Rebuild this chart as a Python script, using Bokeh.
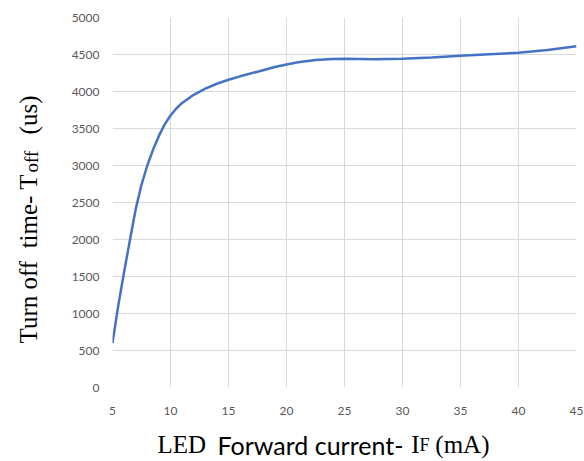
import math
from bokeh.plotting import figure
from bokeh.models import FixedTicker
from bokeh.layouts import column, row
from bokeh.core.properties import value
from bokeh.embed import file_html
from bokeh.resources import INLINE

# ---- data ----
led_current_ma = [5, 5.5, 6, 6.5, 7, 7.5, 8, 8.5, 9, 9.5, 10, 10.5, 11, 12, 13, 14,
                  15, 16, 17.5, 19, 20, 21, 22.5, 24, 25, 27.5, 30, 32.5, 35,
                  37.5, 40, 42.5, 45]
turn_off_us = [600, 1110, 1560, 1990, 2410, 2740, 3000, 3215, 3400, 3555, 3675,
               3770, 3845, 3955, 4040, 4105, 4158, 4205, 4268, 4330, 4365, 4395,
               4425, 4438, 4442, 4436, 4442, 4460, 4482, 4503, 4525, 4562, 4610]
x_ticks = [5, 10, 15, 20, 25, 30, 35, 40, 45]
y_ticks = [0, 500, 1000, 1500, 2000, 2500, 3000, 3500, 4000, 4500, 5000]

# ---- layout constants ----
PAGE_W, PAGE_H = 584, 461
YLAB_W = 48
MAIN_W, MAIN_H = PAGE_W - YLAB_W, 420
XLAB_H = PAGE_H - MAIN_H

p = figure(width=MAIN_W, height=MAIN_H, output_backend="svg", toolbar_location=None,
           x_range=(5, 45), y_range=(0, 5000), frame_align=False,
           min_border_left=112 - YLAB_W, min_border_right=8,
           min_border_top=17, min_border_bottom=33)
p.outline_line_color = None

for ax in (p.xaxis, p.yaxis):
    ax.axis_line_color = None
    ax.major_tick_line_color = None
    ax.minor_tick_line_color = None
    ax.major_label_text_font = "Lato"
    ax.major_label_text_font_size = "12px"
    ax.major_label_text_color = "#595959"
p.xaxis.ticker = FixedTicker(ticks=x_ticks)
p.yaxis.ticker = FixedTicker(ticks=y_ticks)
p.xaxis.major_label_standoff = 13
p.yaxis.major_label_standoff = 7

p.xgrid.ticker = FixedTicker(ticks=x_ticks)
p.ygrid.ticker = FixedTicker(ticks=y_ticks)
for g in (p.xgrid, p.ygrid):
    g.grid_line_color = "#d9d9d9"
    g.grid_line_width = 1

p.line(led_current_ma, turn_off_us, line_color="#4472C4", line_width=2.5)


def text_fig(w, h):
    f = figure(width=w, height=h, output_backend="svg", toolbar_location=None,
               x_range=(0, w), y_range=(0, h), min_border=0, frame_align=False,
               x_axis_type=None, y_axis_type=None, title=None)
    f.grid.visible = False
    f.outline_line_color = None
    return f


# ---- y axis title (mixed sizes, rotated) ----
ylab = text_fig(YLAB_W, MAIN_H)
for txt, bx, py, size, align in [
    ("Turn off\u00a0 time- T", 28, 343, "25px", "left"),
    ("off", 31, 172, "19px", "left"),
    ("(us)", 28, 95, "25px", "right"),
]:
    ylab.text(x=[bx], y=[MAIN_H - py], text=[txt], angle=math.pi / 2,
              text_font=value("Liberation Serif"), text_font_size=size,
              text_align=align, text_baseline="alphabetic", text_color="black")

# ---- x axis title (mixed fonts) ----
xlab = text_fig(PAGE_W, XLAB_H)
X_BASE = 17  # baseline height inside the title strip
for txt, px, font, size, align in [
    ("LED", 157, "Liberation Serif", "25px", "left"),
    ("Forward current-", 310, "Lato", "25px", "center"),
    ("I", 419, "Liberation Serif", "25px", "right"),
    ("F", 429, "Liberation Serif", "18px", "right"),
    ("(mA)", 489, "Liberation Serif", "25px", "right"),
]:
    xlab.text(x=[px], y=[X_BASE], text=[txt], text_font=value(font),
              text_font_size=size, text_align=align,
              text_baseline="alphabetic", text_color="black")

layout = column(row(ylab, p, spacing=0), xlab, spacing=0)
open("out.html", "w").write(file_html(layout, INLINE))
